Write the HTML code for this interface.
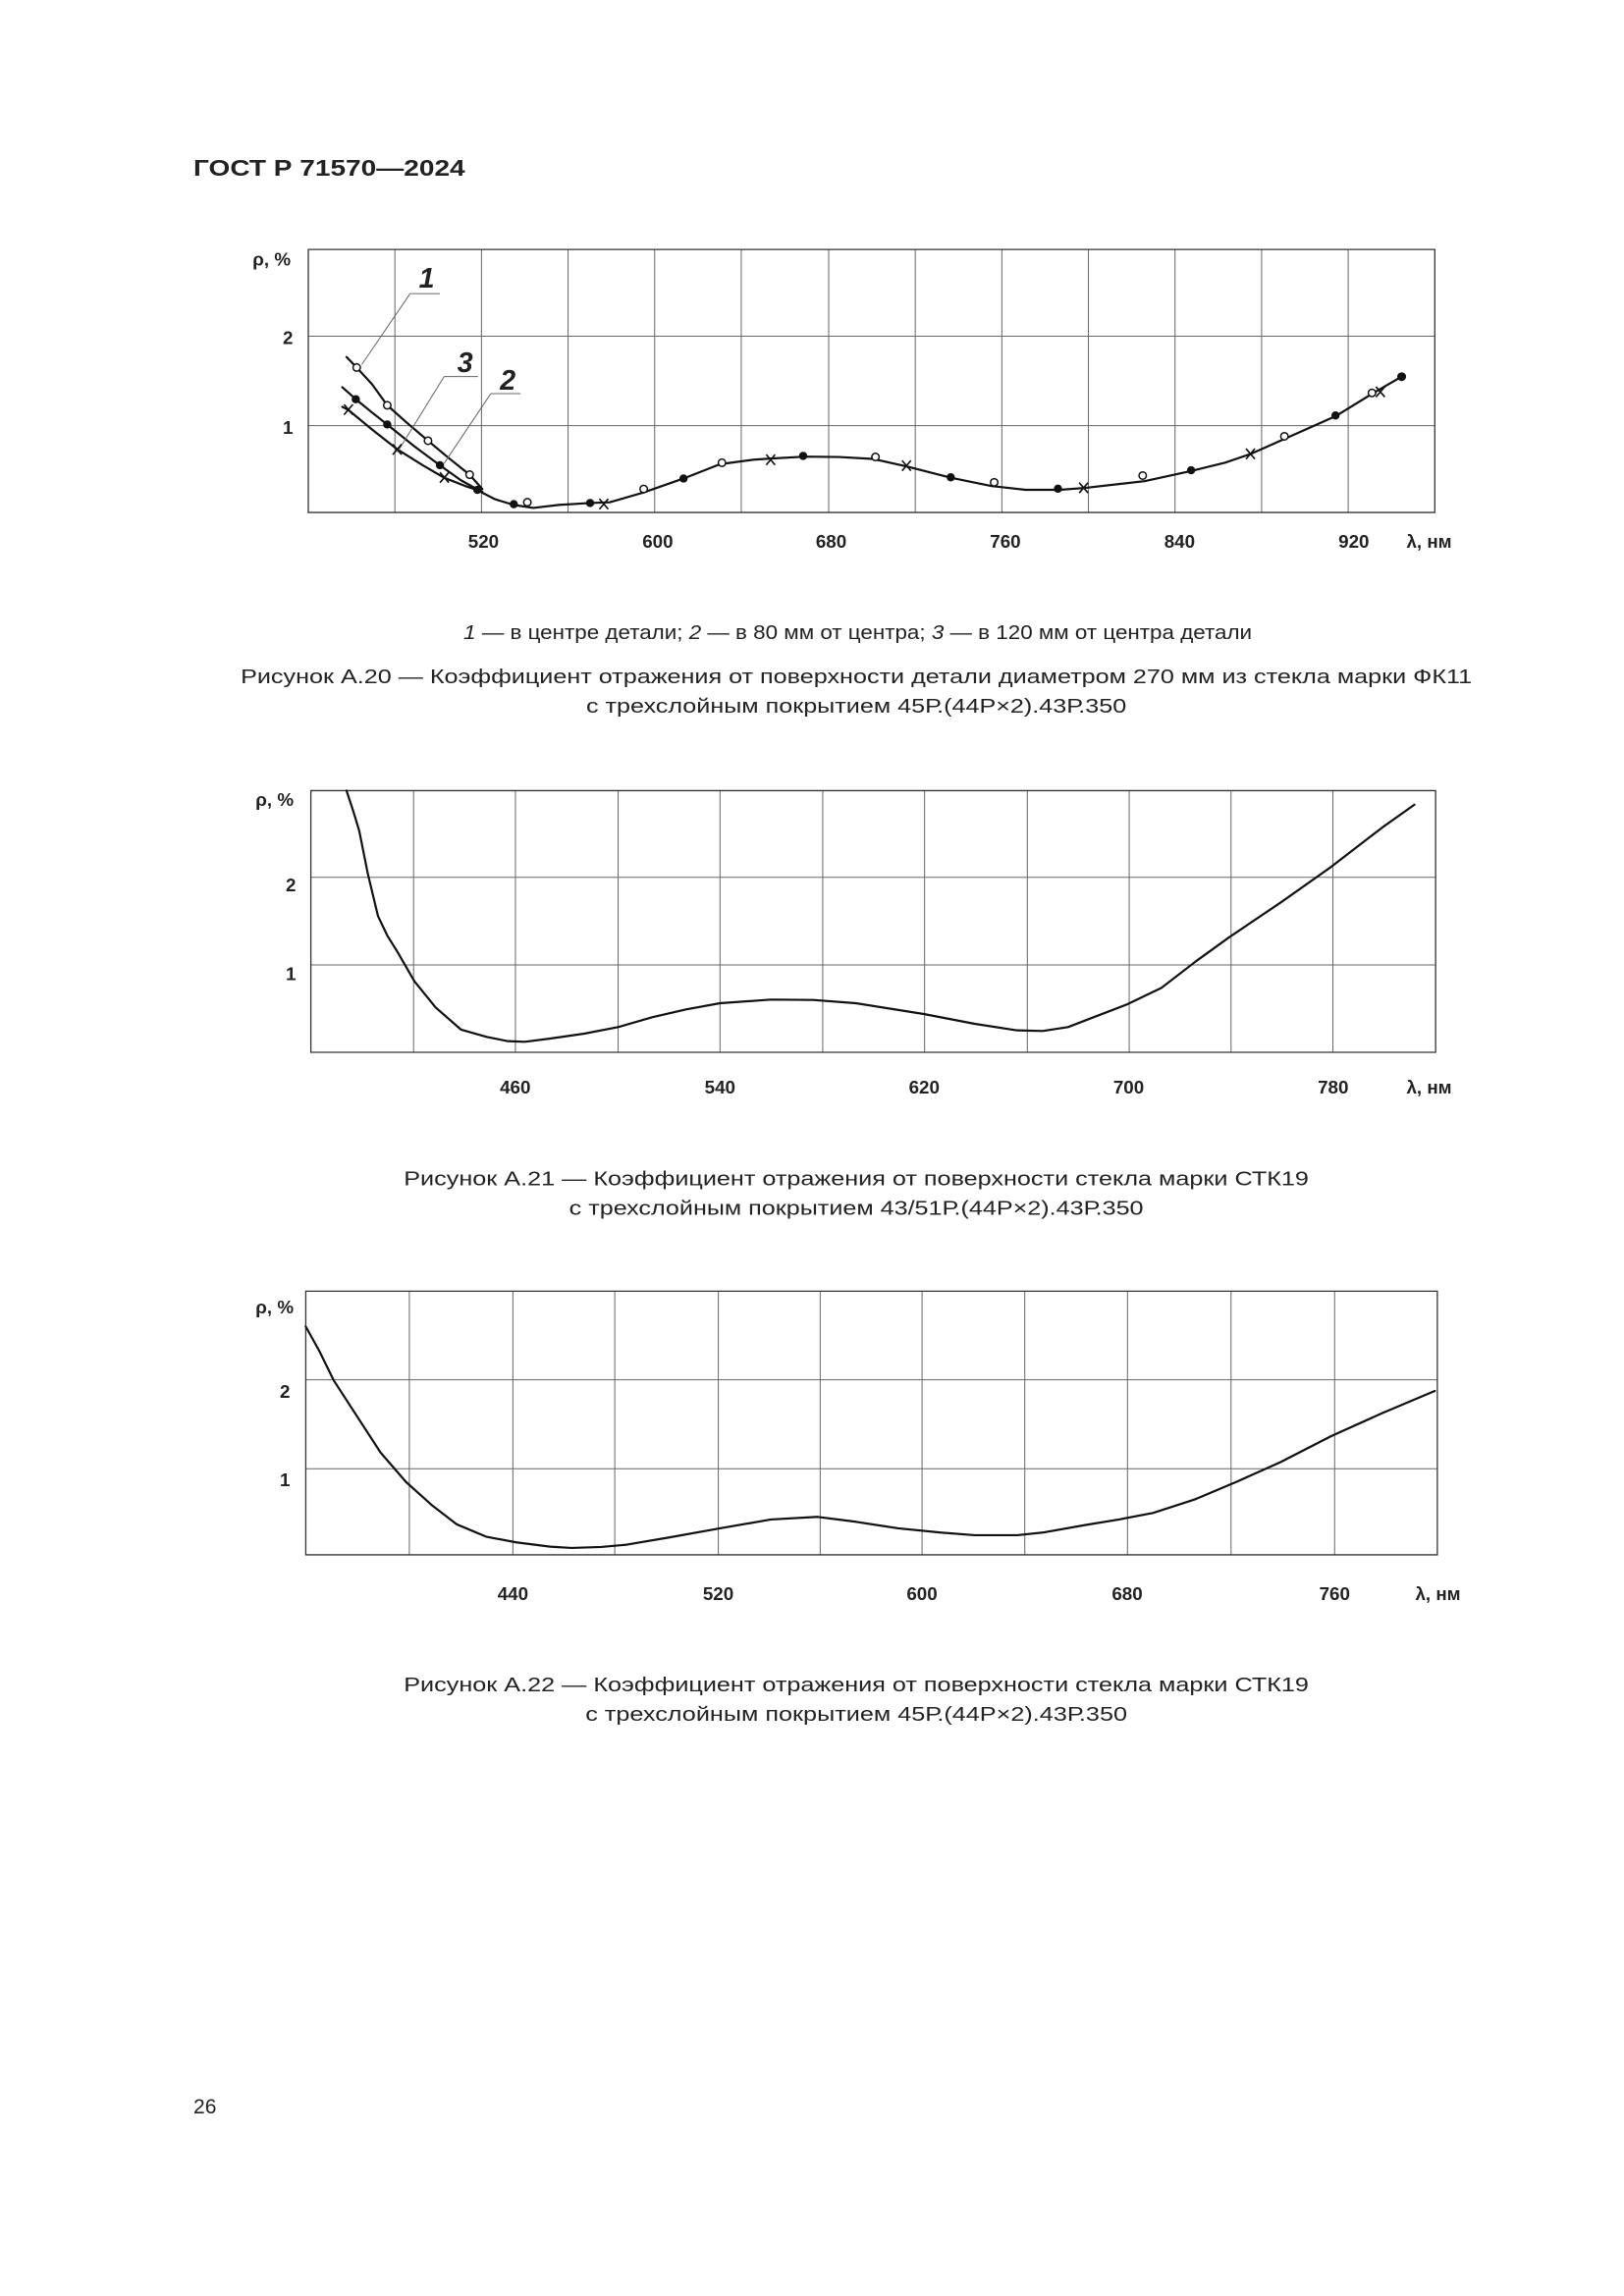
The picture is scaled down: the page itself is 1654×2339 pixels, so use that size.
<!DOCTYPE html>
<html><head><meta charset="utf-8"><style>
html,body{margin:0;padding:0;background:#fff}
svg{display:block}
text{font-family:"Liberation Sans",sans-serif;fill:#222}
.g{stroke:#666;stroke-width:1;fill:none;vector-effect:non-scaling-stroke}
.f{stroke:#333;stroke-width:1.3;fill:none;vector-effect:non-scaling-stroke}
.c{stroke:#111;stroke-width:2.2;fill:none;stroke-linejoin:round;stroke-linecap:round;vector-effect:non-scaling-stroke}
.t{font-weight:bold;font-size:12.5px;text-anchor:middle}
.cap{font-size:13.5px;text-anchor:middle}
</style></head><body>
<svg width="1654" height="2339" viewBox="0 0 1100 1555.6" xmlns="http://www.w3.org/2000/svg">
<text x="131" y="119" style="font-weight:bold;font-size:15.5px" textLength="184" lengthAdjust="spacingAndGlyphs">ГОСТ Р 71570—2024</text>

<!-- Chart 1 -->
<g transform="translate(119.7,86.4) scale(0.575,0.2557)">
<path class="g" d="M257,323V1020M359,323V1020M461,323V1020M563,323V1020M665,323V1020M768,323V1020M870,323V1020M972,323V1020M1074,323V1020M1176,323V1020M1278,323V1020M1380,323V1020"/>
<path class="g" d="M155,553H1482M155,790H1482"/>
<rect class="f" x="155" y="323" width="1327" height="697"/>
<polyline class="c" points="200,608 212,636 230,680 248,736 270,780 296,830 320,875 345,920 360,958"/>
<polyline class="c" points="195,688 211,720 230,755 248,787 280,845 310,895 335,935 355,960"/>
<polyline class="c" points="195,740 202,748 230,800 260,853 290,895 315,928 340,950 360,965"/>
<polyline class="c" points="355,962 375,985 397,1000 420,1008 450,1000 487,995 510,993 550,967 597,930 640,892 680,880 700,877 740,872 780,873 820,878 860,898 912,928 960,950 1000,960 1040,960 1070,955 1140,937 1195,910 1235,888 1265,865 1305,825 1365,765 1410,703 1443,660"/>
<path class="g" d="M275,440H310M275,440L218,628M315,660H355M315,660L260,860M370,705H405M370,705L315,890"/>
</g>
<g fill="#fff" stroke="#111" stroke-width="1">
<circle cx="241.6" cy="249" r="2.5"/><circle cx="262.3" cy="274.6" r="2.5"/><circle cx="289.9" cy="298.6" r="2.5"/><circle cx="318.1" cy="321.6" r="2.5"/>
<circle cx="357.2" cy="340.3" r="2.5"/><circle cx="436" cy="331.3" r="2.5"/><circle cx="489" cy="313.5" r="2.5"/><circle cx="593" cy="309.6" r="2.5"/>
<circle cx="673.4" cy="326.8" r="2.5"/><circle cx="774" cy="322.2" r="2.5"/><circle cx="870" cy="295.6" r="2.5"/><circle cx="929.3" cy="266.2" r="2.5"/>
</g>
<g fill="#111">
<circle cx="241" cy="270.5" r="2.8"/><circle cx="262.3" cy="287.6" r="2.8"/><circle cx="298" cy="315.2" r="2.8"/><circle cx="323.3" cy="331.9" r="2.8"/>
<circle cx="348" cy="341.6" r="2.8"/><circle cx="399.7" cy="340.8" r="2.8"/><circle cx="463" cy="324.2" r="2.8"/><circle cx="544" cy="308.9" r="2.8"/>
<circle cx="644" cy="323.4" r="2.8"/><circle cx="716.6" cy="331.1" r="2.8"/><circle cx="806.8" cy="318.6" r="2.8"/><circle cx="904.6" cy="281.5" r="2.8"/><circle cx="949.4" cy="255.2" r="3"/>
</g>
<g stroke="#111" stroke-width="1.1">
<path d="M233,274l6,7M239,274l-6,7"/><path d="M266,301l6,7M272,301l-6,7"/><path d="M298,320l6,7M304,320l-6,7"/>
<path d="M406,338l6,7M412,338l-6,7"/><path d="M519,308l6,7M525,308l-6,7"/><path d="M611,312l6,7M617,312l-6,7"/>
<path d="M731,327l6,7M737,327l-6,7"/><path d="M844,304l6,7M850,304l-6,7"/><path d="M932,262l6,7M938,262l-6,7"/>
</g>
<text x="289" y="195" style="font-weight:bold;font-style:italic;font-size:19px" text-anchor="middle">1</text>
<text x="315" y="252" style="font-weight:bold;font-style:italic;font-size:19px" text-anchor="middle">3</text>
<text x="344" y="264" style="font-weight:bold;font-style:italic;font-size:19px" text-anchor="middle">2</text>
<text x="184" y="180" class="t">ρ, %</text>
<text x="195" y="233" class="t">2</text>
<text x="195" y="294" class="t">1</text>
<text x="327.5" y="371" class="t">520</text><text x="445.5" y="371" class="t">600</text><text x="563" y="371" class="t">680</text>
<text x="681" y="371" class="t">760</text><text x="799" y="371" class="t">840</text><text x="917" y="371" class="t">920</text>
<text x="968" y="371" class="t">λ, нм</text>
<text x="581" y="433" class="cap" textLength="534" lengthAdjust="spacingAndGlyphs"><tspan font-style="italic">1</tspan> — в центре детали; <tspan font-style="italic">2</tspan> — в 80 мм от центра; <tspan font-style="italic">3</tspan> — в 120 мм от центра детали</text>
<text x="580" y="463" class="cap" textLength="834" lengthAdjust="spacingAndGlyphs">Рисунок А.20 — Коэффициент отражения от поверхности детали диаметром 270 мм из стекла марки ФК11</text>
<text x="580" y="483" class="cap" textLength="366" lengthAdjust="spacingAndGlyphs">с трехслойным покрытием 45Р.(44Р×2).43Р.350</text>

<!-- Chart 2 -->
<g transform="translate(119.7,518.6) scale(0.575,0.2216)">
<path class="g" d="M279,77V877M399,77V877M520,77V877M640,77V877M761,77V877M881,77V877M1002,77V877M1122,77V877M1242,77V877M1362,77V877"/>
<path class="g" d="M158,342H1483M158,610H1483"/>
<rect class="f" x="158" y="77" width="1325" height="800"/>
<polyline class="c" points="200,77 208,140 215,200 225,330 237,460 248,520 260,570 280,660 305,740 335,808 365,830 390,843 410,845 440,835 480,820 520,800 560,770 600,746 640,727 700,716 750,717 800,727 880,760 940,790 990,810 1020,812 1050,800 1080,770 1120,730 1160,680 1200,600 1240,525 1300,420 1360,310 1420,190 1458,120"/>
</g>
<text x="186" y="546" class="t">ρ, %</text>
<text x="197" y="604" class="t">2</text>
<text x="197" y="664" class="t">1</text>
<text x="349" y="741" class="t">460</text><text x="487.7" y="741" class="t">540</text><text x="626" y="741" class="t">620</text>
<text x="764.5" y="741" class="t">700</text><text x="903" y="741" class="t">780</text>
<text x="968" y="741" class="t">λ, нм</text>
<text x="580" y="803" class="cap" textLength="613" lengthAdjust="spacingAndGlyphs">Рисунок А.21 — Коэффициент отражения от поверхности стекла марки СТК19</text>
<text x="580" y="823" class="cap" textLength="389" lengthAdjust="spacingAndGlyphs">с трехслойным покрытием 43/51Р.(44Р×2).43Р.350</text>

<!-- Chart 3 -->
<g transform="translate(119.7,864.4) scale(0.575,0.2216)">
<path class="g" d="M274,47V853M396,47V853M516,47V853M638,47V853M758,47V853M878,47V853M999,47V853M1120,47V853M1242,47V853M1364,47V853"/>
<path class="g" d="M152,318H1485M152,590H1485"/>
<rect class="f" x="152" y="47" width="1333" height="806"/>
<polyline class="c" points="152,155 168,230 185,320 215,440 240,540 270,630 300,700 330,760 365,798 400,815 440,828 465,832 500,829 530,822 580,800 640,772 700,745 755,737 800,752 850,772 900,785 940,793 990,793 1020,785 1070,762 1110,745 1150,725 1200,683 1250,628 1300,570 1360,490 1420,420 1482,352"/>
</g>
<text x="186" y="890" class="t">ρ, %</text>
<text x="193" y="947" class="t">2</text>
<text x="193" y="1007" class="t">1</text>
<text x="347.4" y="1084" class="t">440</text><text x="486.5" y="1084" class="t">520</text><text x="624.5" y="1084" class="t">600</text>
<text x="763.5" y="1084" class="t">680</text><text x="904" y="1084" class="t">760</text>
<text x="974" y="1084" class="t">λ, нм</text>
<text x="580" y="1146" class="cap" textLength="613" lengthAdjust="spacingAndGlyphs">Рисунок А.22 — Коэффициент отражения от поверхности стекла марки СТК19</text>
<text x="580" y="1166" class="cap" textLength="367" lengthAdjust="spacingAndGlyphs">с трехслойным покрытием 45Р.(44Р×2).43Р.350</text>

<text x="131" y="1432" style="font-size:14px">26</text>
</svg>
</body></html>
